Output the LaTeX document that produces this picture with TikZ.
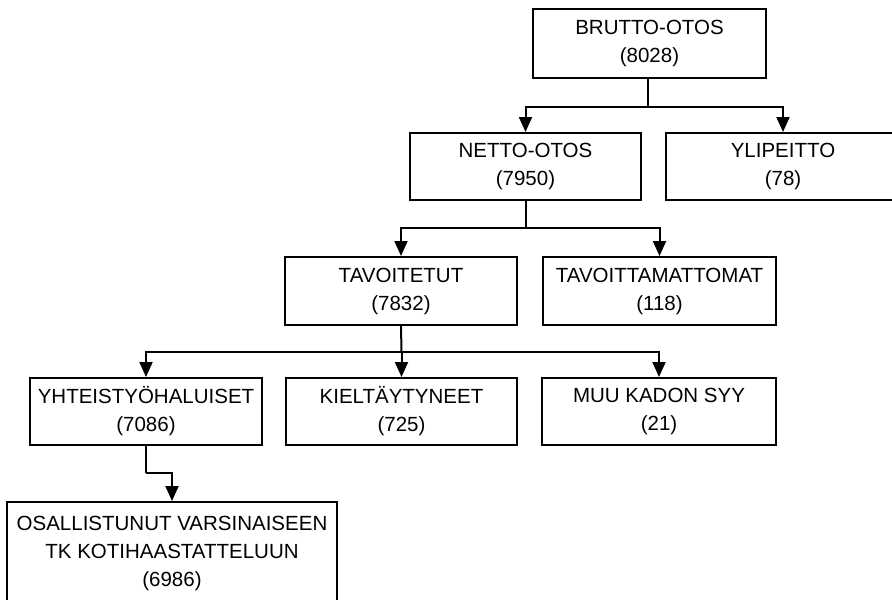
\documentclass[tikz,border=0pt]{standalone}
\usepackage{fontspec}
\setmainfont{Liberation Sans}
\usetikzlibrary{arrows.meta}
\begin{document}
\begin{tikzpicture}[x=1pt,y=-1pt,
  box/.style={draw=black, line width=2pt, fill=white, align=center, inner sep=0pt,
    font=\fontsize{20.5}{28}\selectfont, text=black},
  wire/.style={draw=black, line width=2pt},
  arr/.style={wire, -{Triangle[width=13pt,length=15pt]}}]
\useasboundingbox (0,0) rectangle (892,600);
\clip (0,0) rectangle (892,600);
\fill[white] (0,0) rectangle (892,600);
\node[box, minimum width=233pt, minimum height=69pt] (brutto) at (649.5,43.5) {BRUTTO-OTOS\\(8028)};
\node[box, minimum width=231pt, minimum height=67pt] (netto) at (525.5,166.5) {NETTO-OTOS\\(7950)};
\node[box, minimum width=234pt, minimum height=67pt] (yli) at (783,166.5) {YLIPEITTO\\(78)};
\node[box, minimum width=232pt, minimum height=68pt] (tav) at (401,291) {TAVOITETUT\\(7832)};
\node[box, minimum width=233pt, minimum height=68pt] (tavm) at (659.5,291) {TAVOITTAMATTOMAT\\(118)};
\node[box, minimum width=232pt, minimum height=67pt] (yht) at (146,411.5) {YHTEISTYÖHALUISET\\(7086)};
\node[box, minimum width=231pt, minimum height=67pt] (kiel) at (401.5,411.5) {KIELTÄYTYNEET\\(725)};
\node[box, minimum width=234pt, minimum height=67pt] (muu) at (659,411.5) {MUU KADON SYY\\(21)};
\node[box, minimum width=330pt, minimum height=103pt] (osa) at (172,553.5) {OSALLISTUNUT VARSINAISEEN\\TK KOTIHAASTATTELUUN\\(6986)};
\coordinate (j1) at (648,107);
\coordinate (j2) at (525.5,228);
\coordinate (j3) at (401.5,352);
\coordinate (j4) at (146,473);
\draw[wire] (brutto.south -| j1) -- (j1);
\draw[arr] (j1) -| (netto.north);
\draw[arr] (j1) -| (yli.north);
\draw[wire] (netto.south) -- (j2);
\draw[arr] (j2) -| (tav.north);
\draw[arr] (j2) -| (tavm.north);
\draw[wire] (tav.south) -- (j3);
\draw[arr] (j3) -| (yht.north);
\draw[arr] (j3) -- (kiel.north);
\draw[arr] (j3) -| (muu.north);
\draw[wire] (yht.south) -- (j4);
\draw[arr] (j4) -| (osa.north);
\end{tikzpicture}
\end{document}
